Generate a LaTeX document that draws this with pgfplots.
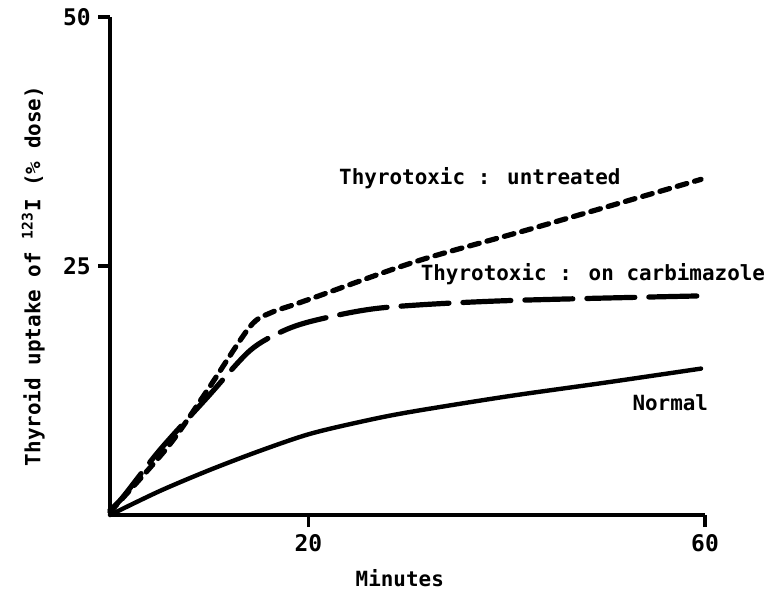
\documentclass[border=0pt]{standalone}
\usepackage{fontspec}
\setmainfont{DejaVu Sans Mono}
\usepackage{pgfplots}
\pgfplotsset{compat=1.18}

\begin{document}
\fontsize{10.5}{12}\selectfont\bfseries
\begin{tikzpicture}
\begin{axis}[
    scale only axis,
    width=297.5bp, height=249bp,
    xmin=0, xmax=60, ymin=0, ymax=50,
    axis lines=left,
    axis line style={-, line width=2bp},
    tick style={line width=1.6bp, black},
    major tick length=6bp,
    tick align=outside,
    xtick={20,60}, ytick={25,50},
    /pgf/number format/assume math mode=true,
    yticklabel style={font=\fontsize{11.5}{12}\selectfont\bfseries},
    xticklabel style={font=\fontsize{11.5}{12}\selectfont\bfseries},
    clip=false,
    xlabel={Minutes},
    xlabel style={at={(axis description cs:0.487,-0.1265)}, anchor=center},
    ylabel={Thyroid uptake of \textsuperscript{123}I (\% dose)},
    ylabel style={at={(axis description cs:-0.129,0.48)}, anchor=center},
  ]
  % untreated
  \addplot[black, line width=2.6bp, line cap=round, smooth, dash pattern=on 5bp off 4bp]
    coordinates {(0,0.3)(5.8,6.8)(9.8,12.5)(14.1,18.9)(16.2,20.3)(18.2,21)(20.5,21.8)(31,25.5)(42.7,28.8)(59.6,33.7)};
  % on carbimazole
  \addplot[black, line width=2.6bp, line cap=round, smooth, dash pattern=on 24bp off 7bp]
    coordinates {(0,0.5)(1.3,1.8)(5,6.5)(9.8,11.8)(14.1,16.5)(17.5,18.5)(20.9,19.6)(27.4,20.8)(39.4,21.5)(59.6,22)};
  % normal
  \addplot[black, line width=2.2bp, line cap=round, smooth]
    coordinates {(0,0)(5,2.4)(10,4.5)(15,6.4)(20,8.1)(25,9.3)(30,10.3)(40,11.9)(50,13.3)(59.6,14.7)};
  \node at (axis cs:37.3,33.8) {Thyrotoxic : untreated};
  \node at (axis cs:48.7,24.2) {Thyrotoxic : on carbimazole};
  \node at (axis cs:56.5,11.3) {Normal};
\end{axis}
\path ([xshift=-55bp,yshift=-38bp]current axis.south west);
\path ([xshift=34.5bp,yshift=8.5bp]current axis.north east);
\end{tikzpicture}
\end{document}
